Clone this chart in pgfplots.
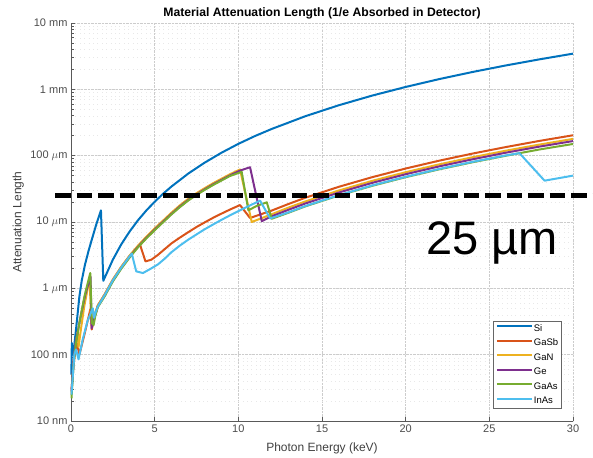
\documentclass[border=0pt]{standalone}
\usepackage{fontspec}
\setmainfont{Liberation Sans}
\usepackage{pgfplots}
\pgfplotsset{compat=1.18}
\definecolor{cSi}{HTML}{0072BD}
\definecolor{cGaSb}{HTML}{D95319}
\definecolor{cGaN}{HTML}{EDB120}
\definecolor{cGe}{HTML}{7E2F8E}
\definecolor{cGaAs}{HTML}{77AC30}
\definecolor{cInAs}{HTML}{4DBEEE}
\begin{document}
\begin{tikzpicture}
\begin{axis}[
  width=502pt, height=398pt, scale only axis,
  xmin=0, xmax=30, ymin=0.01, ymax=10000,
  ymode=log,
  clip=false,
  axis lines*=left,
  x axis line style={-}, y axis line style={-},
  axis line style={black!65, line width=0.6pt},
  every tick/.style={black!65, line width=0.5pt},
  tick align=inside,
  major tick length=4pt, minor tick length=2.5pt,
  xtick={0,5,10,15,20,25,30},
  ytick={0.01,0.1,1,10,100,1000,10000},
  yticklabels={10 nm,100 nm,1 $\mu$m,10 $\mu$m,100 $\mu$m,1 mm,10 mm},
  /pgf/number format/assume math mode=true,
  tick label style={font=\fontsize{11}{12}\selectfont, text=black!70},
  grid=major, yminorgrids=true,
  major grid style={black!20, densely dotted, line width=0.4pt},
  minor grid style={black!9, loosely dotted, line width=0.4pt},
  title={Material Attenuation Length (1/e Absorbed in Detector)},
  every axis title shift=0pt,
  title style={at={(axis description cs:0.5,1.025)}, anchor=center, font=\bfseries\fontsize{12.2}{13}\selectfont},
  xlabel={Photon Energy (keV)},
  xlabel style={at={(axis description cs:0.5,-0.068)}, anchor=center, font=\fontsize{12}{13}\selectfont, text=black!75},
  ylabel={Attenuation Length},
  ylabel style={at={(axis description cs:-0.105,0.5)}, anchor=center, font=\fontsize{12}{13}\selectfont, text=black!75},
  legend style={at={(axis description cs:0.978,0.03)}, anchor=south east,
    draw=black!60, line width=0.6pt, fill=white,
    font=\fontsize{9.5}{10}\selectfont, inner sep=2.5pt, row sep=4.2pt,
    nodes={inner sep=1pt, text height=6.8pt, text depth=1.5pt}},
  legend cell align=left,
  legend image code/.code={\draw[#1, line width=2pt] (0pt,2.6pt) -- (35pt,2.6pt);},
  every axis plot/.append style={line width=2pt, line join=round},
]
% Si
\addplot[cSi] coordinates {(0.02,0.05) (0.05,0.15) (0.1,0.1) (0.2,0.14) (0.34,0.3) (0.5,0.75) (0.64,1.3) (0.84,2.3) (1.04,3.6) (1.24,5.4) (1.5,9) (1.79,15) (1.93,1.3) (2.0,1.42) (2.5,2.7) (3.0,4.59) (3.5,7.17) (4.0,10.6) (4.5,14.9) (5.0,20.2) (5.5,26.6) (6.0,34.2) (7.0,53.5) (8.0,78.8) (9.0,111) (10.0,150.6) (11,198) (12,253) (14,393) (16,575) (18,805) (20,1086) (22,1426) (24,1827) (26,2294) (28,2833) (30,3450)};
% GaSb
\addplot[cGaSb] coordinates {(0.03,0.03) (0.2,0.09) (0.35,0.15) (0.5,0.1) (0.8,0.2) (1.1,0.42) (1.15,0.48) (1.24,0.24) (1.4,0.36) (1.6,0.55) (2.0,0.8) (2.5,1.35) (3.0,2.1) (3.5,3.1) (4.12,4.6) (4.45,2.55) (4.8,2.7) (5.2,3.2) (5.6,3.9) (6.0,4.75) (6.5,5.8) (7.0,7.0) (7.5,8.4) (8.0,9.9) (8.5,11.6) (9.0,13.4) (9.5,15.4) (10.1,18) (10.7,11.5) (12,14.9) (13,18.7) (14,23.2) (16,33.9) (18,47.4) (20,64) (22,84) (24,107.6) (26,135) (28,167) (30,203)};
% GaN
\addplot[cGaN] coordinates {(0.03,0.025) (0.15,0.08) (0.3,0.16) (0.4,0.22) (0.45,0.13) (0.6,0.25) (0.8,0.55) (1.0,1.0) (1.12,1.4) (1.2,0.3) (1.4,0.4) (1.6,0.55) (2.0,0.8) (2.5,1.35) (3.0,2.1) (3.5,3.1) (4.0,4.4) (4.5,6.0) (5.0,8.0) (5.5,10.5) (6.0,13.8) (6.5,17.8) (7.0,22.3) (7.5,27.2) (8.0,32.5) (8.5,38.5) (9.0,45) (9.5,52.5) (10.1,62) (10.8,10) (12,13.1) (13,16.5) (14,20.4) (16,29.8) (18,41.7) (20,56.3) (22,73.9) (24,94.7) (26,119) (28,147) (30,179)};
% Ge
\addplot[cGe] coordinates {(0.03,0.028) (0.15,0.08) (0.3,0.16) (0.55,0.35) (0.85,0.8) (1.05,1.2) (1.17,1.5) (1.23,0.25) (1.4,0.36) (1.6,0.53) (2.0,0.77) (2.5,1.3) (3.0,2.02) (3.5,2.98) (4.0,4.22) (4.5,5.76) (5.0,7.68) (5.5,10.1) (6.0,13.2) (6.5,17.1) (7.0,21.4) (7.5,26.1) (8.0,31.2) (8.5,37) (9.0,43.2) (9.5,50.4) (10.1,59.5) (10.7,67) (11.4,10.3) (12,12.2) (13,15.3) (14,19.0) (16,27.8) (18,38.9) (20,52.5) (22,68.9) (24,88.2) (26,111) (28,137) (30,166)};
% GaAs
\addplot[cGaAs] coordinates {(0.03,0.022) (0.15,0.07) (0.3,0.15) (0.5,0.3) (0.8,0.75) (1.0,1.2) (1.15,1.7) (1.25,0.3) (1.35,0.28) (1.45,0.38) (1.6,0.52) (2.0,0.75) (2.5,1.27) (3.0,1.97) (3.5,2.91) (4.0,4.14) (4.5,5.64) (5.0,7.52) (5.5,9.87) (6.0,13.0) (6.5,16.7) (7.0,21.0) (7.5,25.6) (8.0,30.6) (8.5,36.2) (9.0,42.3) (9.5,49.4) (10.2,57) (10.6,15) (11.1,17.5) (11.7,19.8) (12.0,11.2) (13,13.8) (14,17.2) (16,25.1) (18,35.1) (20,47.4) (22,62.2) (24,79.6) (26,99.9) (28,124) (30,150)};
% InAs
\addplot[cInAs] coordinates {(0.03,0.025) (0.2,0.1) (0.3,0.12) (0.45,0.085) (0.7,0.17) (1.0,0.33) (1.3,0.5) (1.38,0.36) (1.45,0.42) (1.6,0.53) (2.0,0.78) (2.5,1.32) (3.0,2.05) (3.63,3.35) (3.9,1.8) (4.3,1.7) (4.8,2.0) (5.2,2.3) (5.6,2.8) (6.0,3.5) (6.5,4.4) (7.0,5.4) (7.5,6.5) (8.0,7.8) (8.5,9.2) (9.0,10.8) (9.5,12.6) (10.1,15) (10.7,17.8) (11.3,21) (11.9,11.3) (13,14.0) (14,17.4) (16,25.4) (18,35.6) (20,48) (22,63) (24,80.7) (26,101) (26.8,109) (28.3,42) (30,50)};
\legend{Si,GaSb,GaN,Ge,GaAs,InAs}
% 25 um threshold line
\addplot[black, line width=5.5pt, dash pattern=on 15.5pt off 6pt, forget plot] coordinates {(-0.956,25) (31.2,25)};
\node[anchor=base, font=\fontsize{47}{47}\selectfont] at (axis cs:25.16,3.19) {25 µm};
\end{axis}
\pgfresetboundingbox
\path[use as bounding box] (-71pt,-36pt) rectangle (522pt,421pt);
\end{tikzpicture}
\end{document}
